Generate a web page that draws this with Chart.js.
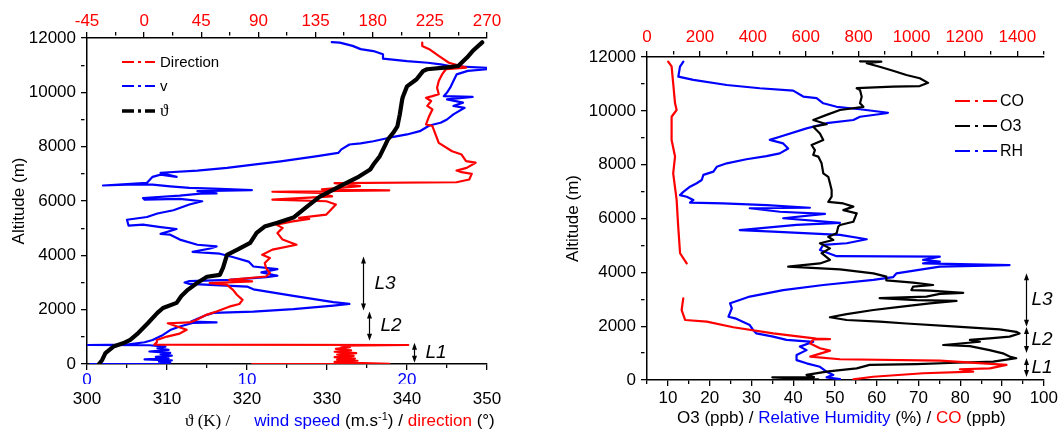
<!DOCTYPE html>
<html><head><meta charset="utf-8">
<script src="https://cdn.jsdelivr.net/npm/chart.js@4.4.0/dist/chart.umd.min.js"></script>
<style>
html,body{margin:0;padding:0;background:#fff;width:1060px;height:431px;overflow:hidden;}
#wrap{position:relative;width:1060px;height:431px;}
canvas{position:absolute;top:0;}
#cL{left:0;width:540px;height:431px;}
#cR{left:540px;width:520px;height:431px;}
.xt{position:absolute;font-family:'Liberation Sans',Arial,sans-serif;font-size:17px;line-height:20px;white-space:nowrap;color:#000;}
sup{font-size:11px;vertical-align:6px;line-height:0;}
</style></head>
<body><div id="wrap">
<canvas id="cL" width="540" height="431"></canvas>
<canvas id="cR" width="520" height="431"></canvas>
<div class="xt" id="tL" style="left:185px;top:411px;"><span style="font-family:'Liberation Serif','DejaVu Serif',serif">ϑ (K) /</span><span style="display:inline-block;width:24px"></span><span style="color:#0000ff">wind speed</span> (m.s<sup>-1</sup>) / <span style="color:#ff0000">direction</span> (°)</div>
<div class="xt" id="tR" style="left:677px;top:408px;">O3 (ppb) / <span style="color:#0000ff">Relative Humidity</span> (%) / <span style="color:#ff0000">CO</span> (ppb)</div>
</div>
<script>
// ---------- DATA (each entry: [altitude m, value]) ----------
const thetaAlt = [0,150,400,640,760,890,1140,1500,1880,2060,2250,2500,2730,2990,3210,3280,3540,4020,4210,4460,4830,5060,5200,5390,5790,6160,6420,6680,6900,7160,7340,7650,8010,8260,8520,8750,9190,9740,9850,10220,10480,10780,10850,10920,10970,11280,11520,11840];
const thetaK = [301.5,301.9,302.3,303.3,304.5,305.4,306.4,307.6,308.8,309.5,311.2,311.8,312.6,313.8,315.0,316.6,317.0,317.5,318.8,320.4,321.2,322.2,323.8,325.8,327.5,329.1,330.8,332.5,334.0,335.4,335.8,336.6,337.2,337.6,338.3,338.8,339.1,339.4,339.5,340.0,341.2,342.0,342.5,345.0,346.4,347.5,348.2,349.4];

const windSpeed = [[0,0.2],[8,4.9],[50,5.2],[90,4.5],[130,5.3],[170,3.6],[210,5.1],[260,4.3],[310,5.3],[360,4.6],[410,5.2],[460,3.9],[520,5.1],[580,4.4],[640,4.9],[690,3.9],[700,0.0],[715,2.5],[800,3.6],[885,4.1],[1070,4.75],[1250,5.2],[1380,5.8],[1510,6.6],[1530,8.1],[1560,6.5],[1810,7.5],[1880,7.9],[1930,10.4],[2020,12.9],[2150,15.4],[2214,16.4],[2280,15.4],[2510,12.9],[2750,10.4],[2850,10.0],[2950,6.4],[3000,6.1],[3050,6.4],[3100,8.9],[3200,11.2],[3250,11.9],[3370,10.9],[3490,11.9],[3590,10.4],[3770,10.1],[3940,9.1],[4060,8.3],[4130,6.6],[4250,7.7],[4330,8.1],[4390,6.9],[4580,5.8],[4760,5.2],[4790,4.6],[4970,5.6],[5040,4.6],[5130,3.5],[5090,2.6],[5310,2.5],[5410,3.75],[5540,4.4],[5660,5.4],[5870,6.4],[5990,7.2],[6080,5.8],[6050,3.6],[6110,3.5],[6200,5.8],[6270,7.1],[6280,8.1],[6360,6.9],[6400,10.3],[6450,8.3],[6480,6.4],[6540,5.2],[6600,4.1],[6610,3.0],[6570,1.0],[6670,3.75],[6890,4.1],[6970,4.6],[6890,5.6],[7040,4.6],[7120,6.9],[7220,8.75],[7340,10.4],[7460,12.1],[7650,14.4],[7770,15.7],[7900,15.9],[8080,16.4],[8120,17.1],[8200,17.9],[8330,18.9],[8450,20.0],[8570,20.8],[8780,21.4],[8880,22.1],[9000,22.5],[9190,22.9],[9430,23.6],[9500,22.9],[9620,23.5],[9740,22.5],[9830,24.1],[9860,22.3],[9990,22.5],[10170,22.7],[10420,22.9],[10660,23.1],[10790,23.8],[10850,25.0],[10900,25.0],[10970,22.7],[11030,22.1],[11090,21.3],[11150,20.0],[11240,18.5],[11400,18.5],[11520,17.9],[11590,17.1],[11710,16.6],[11830,15.8],[11850,15.3]];

const windDir = [[0,85],[10,193],[40,165],[80,150],[120,168],[160,152],[200,166],[250,150],[300,165],[350,152],[400,167],[450,150],[500,163],[560,151],[620,162],[680,155],[700,208],[712,8],[800,10],[885,10],[1010,18],[1120,28],[1260,33.5],[1500,18.6],[1530,36],[1620,41],[1810,49],[1930,57],[2110,67],[2210,75],[2360,77.5],[2550,73],[2730,70],[2920,65],[2980,51.6],[3040,85],[3100,67],[3220,96],[3350,99],[3530,96],[3720,95],[3900,99],[4020,93],[4210,101],[4390,120],[4580,109],[4820,105],[5010,109],[5130,104],[5250,117],[5340,130],[5380,122],[5500,143.5],[5870,151],[5990,143.5],[6050,101],[6170,148],[6300,138],[6340,101],[6390,193],[6430,140],[6550,170],[6660,150],[6690,246],[6790,256],[7000,258],[7060,250],[7120,246],[7220,254],[7410,261],[7470,253.5],[7710,250],[7830,242.5],[8140,232],[8390,230],[8760,227],[8820,222],[9130,224.5],[9370,227],[9500,223],[9680,226],[9800,222],[9860,227],[9930,232],[10170,230.7],[10420,232],[10660,234.6],[10850,237.6],[10910,253.5],[11090,240],[11340,232],[11590,224.5],[11710,219],[11830,219]];

const coPpb = [[25,780],[120,855],[250,1044],[310,1233],[400,1183],[430,1296],[560,1359],[720,1107],[770,729],[870,617],[1090,692],[1180,654],[1360,617],[1510,629],[1520,692],[1540,640],[1730,477],[1960,326],[2170,226],[2230,144],[2600,131],[3030,137],null,[4330,150],[4710,125],[5700,118],[6690,112],[7680,99],[8300,106],[8920,93],[9780,93],[10030,112],[10280,106],[11020,99],[11650,93],[11830,80]];

const o3Ppb = [[20,46],[100,35],[110,45],[190,43.2],[310,48],[370,51.2],[430,55.2],[560,58.3],[590,69.5],[640,79.1],[680,87.9],[810,93.4],[870,91.8],[990,90.2],[1110,87],[1260,82.3],[1300,75.9],[1420,84.7],[1490,82.3],[1550,87],[1610,91.8],[1730,94.2],[1790,93.4],[1880,89.4],[1980,79.1],[2100,67.1],[2170,60.7],[2230,52.8],[2330,48.8],[2450,52.8],[2600,59.2],[2720,65.5],[2850,72.7],[2940,79.1],[2970,69.5],[3040,60.7],[3100,71.9],[3200,75.1],[3240,80.7],[3320,72.7],[3340,68.3],[3470,68.7],[3530,73.5],[3620,68.7],[3700,62.3],[3840,62.3],[3960,59.2],[4110,51.2],[4210,38.8],[4330,46.4],[4460,48.8],[4710,46.8],[4890,48.8],[5080,46.4],[5200,49.6],[5320,48.4],[5450,50.4],[5700,50.8],[5760,51.2],[5880,54.4],[6190,55.2],[6310,52],[6440,54.4],[6560,52],[6620,48.4],[6810,49.2],[7060,49.2],[7310,48.8],[7550,48.4],[7680,47.2],[8050,46.8],[8300,46],[8360,44.8],[8540,45.2],[8730,44.4],[8920,47.2],[9160,46.4],[9410,44.8],[9500,48],[9660,44.8],[9850,48],[10030,51.2],[10150,56.8],[10280,56],[10520,56.4],[10770,56],[10840,55.2],[10900,63.9],[10920,70.3],[11040,72.3],[11210,70.3],[11330,67.1],[11490,63.9],[11640,60.7],[11770,57.6],[11830,61.1],[11840,56]];

const rhPct = [[30,51.2],[100,48],[190,49.6],[310,48],[490,46.4],[620,43.2],[740,40.8],[930,40.8],[1110,43.2],[1240,41.6],[1420,44.8],[1490,38.4],[1610,35.2],[1730,31.2],[1860,30.4],[2040,29.6],[2290,26.1],[2350,24.5],[2660,25.3],[2850,24.9],[2970,27.2],[3100,29.6],[3220,33.6],[3340,37.6],[3530,47.2],[3720,59.2],[3820,63.9],[3960,64.7],[4210,75.1],[4270,91.8],[4330,71.1],[4400,75.1],[4460,71.1],[4580,75.1],[4600,50.4],[4830,46.4],[5020,47.2],[5080,52.8],[5230,57.6],[5390,51.2],[5510,35.2],[5570,27.2],[5760,40.8],[5840,51.2],[6010,37.6],[6170,47.6],[6250,36.8],[6380,29.6],[6400,44],[6500,33.6],[6560,23.2],[6590,15.3],[6690,16.1],[6810,14.5],[6870,12.9],[6990,13.7],[7180,15.3],[7310,16.9],[7430,18.1],[7620,18.5],[7740,20.9],[7920,21.7],[8050,24.1],[8200,28.8],[8320,33.6],[8420,36.8],[8600,38.8],[8790,37.6],[8920,34.4],[9040,36.8],[9350,43.2],[9540,48],[9660,54.4],[9780,56],[9910,62.3],[9930,62.7],[10060,56],[10150,50.4],[10280,47.2],[10470,45.6],[10530,42.4],[10750,40],[10840,32],[10960,24.1],[11150,16.1],[11270,12.5],[11640,12.9],[11830,13.7]];

// layer markers (altitude bounds, m)
const layerNames = ['L1','L2','L3'];
const layersLeftLow  = [50, 860, 1970];
const layersLeftHigh = [780, 1930, 3960];
const layersRightLow  = [110, 1000, 1980];
const layersRightHigh = [820, 1970, 3970];

// ---------- helpers ----------
const RED = '#ff0000', BLUE = '#0000ff', BLACK = '#000000';
const FAM = "'Liberation Sans', Arial, sans-serif";
Chart.defaults.font.family = FAM;
Chart.defaults.color = BLACK;

function pts(list){ return list.map(p => p === null ? {x:null,y:null} : {x:p[1], y:p[0]}); }
function ptsXY(alts, vals){ return alts.map((a,i)=>({x:vals[i], y:a})); }
const tickFont = {family: FAM, size: 17};
const isMult = (v, step) => Math.abs(v/step - Math.round(v/step)) < 1e-6;
function grid(major){
  return {display:true, drawOnChartArea:false, drawTicks:true, tickLength:6, color:BLACK, tickColor:BLACK, tickWidth:1.3, lineWidth:1.3,
    tickBorderDash: ctx => (ctx.tick && isMult(ctx.tick.value, major)) ? [] : [3.5, 30]};
}
const border = {display:true, color:BLACK, width:1.5};
function every(step){ return v => isMult(v, step) ? String(Math.round(v)) : ''; }

function legendPlugin(x0, x1, tx, ys, dash){
  return { id:'profLegend', afterDraw(chart){
    const ctx = chart.ctx; ctx.save();
    ys.forEach((y,i)=>{
      const ds = chart.data.datasets[i];
      ctx.strokeStyle = ds.borderColor; ctx.lineWidth = ds.legendWidth || 2;
      ctx.setLineDash(dash); ctx.lineCap='butt';
      ctx.beginPath(); ctx.moveTo(x0, y); ctx.lineTo(x1, y); ctx.stroke();
      ctx.setLineDash([]);
      ctx.fillStyle = BLACK; ctx.font = ds.legendFont; ctx.textBaseline = 'middle'; ctx.textAlign='left';
      ctx.fillText(ds.label, tx, y + 1);
    });
    ctx.restore();
  }};
}
function layerPlugin(low, high, xVals, xAxis, dx){
  return { id:'layers', afterDraw(chart){
    const ctx = chart.ctx, ys = chart.scales.y, xs = chart.scales[xAxis];
    ctx.save(); ctx.strokeStyle = BLACK; ctx.fillStyle = BLACK; ctx.lineWidth = 1.2;
    layerNames.forEach((n,i)=>{
      const x = Math.round(xs.getPixelForValue(xVals[i])) + 0.5;
      const yT = ys.getPixelForValue(high[i]), yB = ys.getPixelForValue(low[i]);
      ctx.beginPath(); ctx.moveTo(x, yT + 4); ctx.lineTo(x, yB - 4); ctx.stroke();
      ctx.beginPath(); ctx.moveTo(x, yT); ctx.lineTo(x - 2.5, yT + 7); ctx.lineTo(x + 2.5, yT + 7); ctx.closePath(); ctx.fill();
      ctx.beginPath(); ctx.moveTo(x, yB); ctx.lineTo(x - 2.5, yB - 7); ctx.lineTo(x + 2.5, yB - 7); ctx.closePath(); ctx.fill();
      ctx.font = "italic 19px " + FAM; ctx.textBaseline = 'middle'; ctx.textAlign = 'left';
      ctx.fillText(n, x + dx, (yT + yB) / 2);
    });
    ctx.restore();
  }};
}
const lineDs = (label, data, color, axis, width, order, legendWidth, legendFont) => ({
  label, data, xAxisID: axis, yAxisID: 'y', showLine: true, borderColor: color, backgroundColor: color,
  borderWidth: width, pointRadius: 0, pointHoverRadius: 0, tension: 0, spanGaps: false,
  borderJoinStyle: 'round', borderCapStyle: 'round', order, legendWidth, legendFont
});

// ---------- LEFT PANEL ----------
new Chart(document.getElementById('cL'), {
  type: 'scatter',
  data: { datasets: [
    lineDs('Direction', pts(windDir), RED, 'xD', 2.2, 1, 2, "15px " + FAM),
    lineDs('v', pts(windSpeed), BLUE, 'xW', 2.2, 2, 2, "15px " + FAM),
    lineDs('ϑ', ptsXY(thetaAlt, thetaK), BLACK, 'xT', 4.2, 0, 3.5, "17px 'Liberation Serif','DejaVu Serif',serif")
  ]},
  options: {
    responsive: false, animation: false, devicePixelRatio: 1,
    layout: { padding: { left: 0, right: 53, top: 0, bottom: 22 } },
    plugins: { legend: { display: false }, tooltip: { enabled: false } },
    scales: {
      y: { type: 'linear', position: 'left', min: 0, max: 12000,
        ticks: { stepSize: 1000, autoSkip: false, padding: 5, color: BLACK, font: tickFont, callback: every(2000) },
        grid: grid(2000), border,
        title: { display: true, text: 'Altitude (m)', color: BLACK, font: {family: FAM, size: 17}, padding: {top: 9, bottom: 0} },
        afterFit: s => { s.width = 87; } },
      xD: { type: 'linear', position: 'top', min: -45, max: 270,
        ticks: { stepSize: 22.5, autoSkip: false, maxRotation: 0, padding: 0, color: RED, font: tickFont, callback: every(45) },
        grid: grid(45), border, afterFit: s => { s.height = 38; } },
      xW: { type: 'linear', position: 'bottom', weight: 0, min: 0, max: 25,
        ticks: { stepSize: 2.5, autoSkip: false, maxRotation: 0, padding: 0, color: BLUE, font: tickFont, callback: every(10) },
        grid: grid(5), border, afterFit: s => { s.height = 20; } },
      xT: { type: 'linear', position: 'bottom', weight: 1, min: 300, max: 350,
        ticks: { stepSize: 10, autoSkip: false, maxRotation: 0, padding: 5, color: BLACK, font: tickFont },
        grid: { display: false, drawTicks: false, tickLength: 0 }, border: { display: false },
        afterFit: s => { s.height = 25; } }
    }
  },
  plugins: [ legendPlugin(122, 155, 160, [62, 86, 111], [12,4,3,4]),
             layerPlugin(layersLeftLow, layersLeftHigh, [340.9, 335.3, 334.5], 'xT', 11) ]
});

// ---------- RIGHT PANEL ----------
new Chart(document.getElementById('cR'), {
  type: 'scatter',
  data: { datasets: [
    lineDs('CO', pts(coPpb), RED, 'xC', 2.2, 0, 2, "16px " + FAM),
    lineDs('O3', pts(o3Ppb), BLACK, 'x', 2.2, 1, 2, "16px " + FAM),
    lineDs('RH', pts(rhPct), BLUE, 'x', 2.2, 2, 2, "16px " + FAM)
  ]},
  options: {
    responsive: false, animation: false, devicePixelRatio: 1,
    layout: { padding: { left: 0, right: 16, top: 0, bottom: 26 } },
    plugins: { legend: { display: false }, tooltip: { enabled: false } },
    scales: {
      y: { type: 'linear', position: 'left', min: 0, max: 12000,
        ticks: { stepSize: 1000, autoSkip: false, padding: 5, color: BLACK, font: tickFont, callback: every(2000) },
        grid: grid(2000), border,
        title: { display: true, text: 'Altitude (m)', color: BLACK, font: {family: FAM, size: 17}, padding: {top: 23, bottom: 0} },
        afterFit: s => { s.width = 107; } },
      xC: { type: 'linear', position: 'top', min: 0, max: 1500,
        ticks: { stepSize: 100, autoSkip: false, maxRotation: 0, padding: 3, color: RED, font: tickFont, callback: every(200) },
        grid: grid(200), border, afterFit: s => { s.height = 57; } },
      x: { type: 'linear', position: 'bottom', min: 5, max: 100,
        ticks: { stepSize: 5, autoSkip: false, maxRotation: 0, padding: 2, color: BLACK, font: tickFont, callback: every(10) },
        grid: grid(10), border, afterFit: s => { s.height = 25; } }
    }
  },
  plugins: [ legendPlugin(415, 457, 460, [101, 126, 151], [15,5,3,5]),
             layerPlugin(layersRightLow, layersRightHigh, [95.7, 95.7, 95.7], 'x', 5) ]
});
</script>
</body></html>
